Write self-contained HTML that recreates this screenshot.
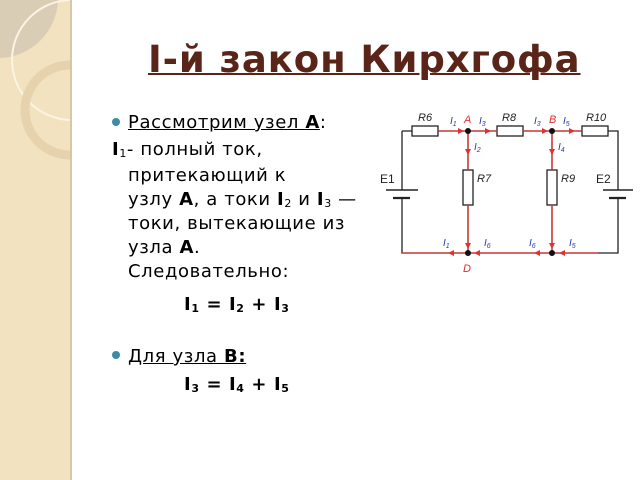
<!DOCTYPE html>
<html><head><meta charset="utf-8"><style>
body{margin:0;width:640px;height:480px;overflow:hidden;background:#fff;position:relative;font-family:"DejaVu Sans","Liberation Sans",sans-serif;}
.side{position:absolute;left:0;top:0;width:70px;height:480px;background:#f2e2c0;border-right:2px solid #d8c7a4;}
.t{position:absolute;left:148px;top:38px;font-size:37px;font-weight:bold;color:#5a2518;text-decoration:underline;text-decoration-thickness:2px;white-space:nowrap;letter-spacing:0.9px}
.l{position:absolute;font-size:18px;color:#000;white-space:nowrap;line-height:24px;letter-spacing:0.6px}
.dot{position:absolute;width:8px;height:8px;border-radius:50%;background:#3d8ca6}
sub{font-size:11px;vertical-align:-2px}
</style></head><body>
<div class="side">
<svg width="70" height="160" style="position:absolute;left:0;top:0">
<path d="M0 0 L58 0 A60 60 0 0 1 0 58 Z" fill="#d9cdb5"/>
<circle cx="72" cy="60" r="60" fill="none" stroke="#fbf3e3" stroke-width="2"/>
<circle cx="70" cy="110" r="45" fill="none" stroke="#e6d3ae" stroke-width="9"/>
</svg></div>
<div class="t">I-й закон Кирхгофа</div>
<div class="dot" style="left:112px;top:118px"></div>
<div class="l" style="left:128px;top:111px"><u>Рассмотрим узел <b>А</b></u>:</div>
<div class="l" style="left:112px;top:138px"><b>I</b><sub>1</sub>- полный ток,</div>
<div class="l" style="left:128px;top:164px">притекающий к</div>
<div class="l" style="left:128px;top:188px">узлу <b>А</b>, а токи <b>I</b><sub>2</sub> и <b>I</b><sub>3</sub> —</div>
<div class="l" style="left:128px;top:212px">токи, вытекающие из</div>
<div class="l" style="left:128px;top:236px">узла <b>А</b>.</div>
<div class="l" style="left:128px;top:260px">Следовательно:</div>
<div class="l" style="left:184px;top:293px;font-weight:bold">I<sub>1</sub> = I<sub>2</sub> + I<sub>3</sub></div>
<div class="dot" style="left:112px;top:351px"></div>
<div class="l" style="left:128px;top:345px"><u>Для узла <b>В:</b></u></div>
<div class="l" style="left:184px;top:373px;font-weight:bold">I<sub>3</sub> = I<sub>4</sub> + I<sub>5</sub></div>
<svg width="640" height="480" style="position:absolute;left:0;top:0" font-family="Liberation Sans,sans-serif">
<g stroke="#222" stroke-width="1.3" fill="none">
<path d="M402 131 H412 M438 131 H497 M523 131 H582 M608 131 H618 V190 M618 198 V253 H402 V198 M402 190 V131"/>
<path d="M468 131 V170 M468 205 V253 M552 131 V170 M552 205 V253"/>
<rect x="412" y="126" width="26" height="10" fill="#fff"/>
<rect x="497" y="126" width="26" height="10" fill="#fff"/>
<rect x="582" y="126" width="26" height="10" fill="#fff"/>
<rect x="463" y="170" width="10" height="35" fill="#fff"/>
<rect x="547" y="170" width="10" height="35" fill="#fff"/>
<path d="M386 190 H418 M603 190 H633" stroke-width="1.6"/>
<path d="M393 198 H410 M609 198 H626" stroke-width="2.2"/>
</g>
<g stroke="#e03030" stroke-width="1.3" fill="none">
<path d="M438 131 H497 M468 131 V170 M523 131 H582 M552 131 V170 M468 205 V253 M552 205 V253 M402 253 H598"/>
</g>
<g fill="#e03030">
<path d="M464 131 l-6 -3 v6z M491 131 l-6 -3 v6z M548 131 l-6 -3 v6z M575 131 l-6 -3 v6z"/>
<path d="M468 155 l-3 -6 h6z M552 155 l-3 -6 h6z M468 249 l-3 -6 h6z M552 249 l-3 -6 h6z"/>
<path d="M448 253 l6 -3 v6z M474 253 l6 -3 v6z M534 253 l6 -3 v6z M559 253 l6 -3 v6z"/>
</g>
<g fill="#111"><circle cx="468" cy="131" r="3"/><circle cx="552" cy="131" r="3"/><circle cx="468" cy="253" r="3"/><circle cx="552" cy="253" r="3"/></g>
<g font-size="11" font-style="italic" fill="#222">
<text x="418" y="121">R6</text><text x="502" y="121">R8</text><text x="586" y="121">R10</text>
<text x="477" y="182">R7</text><text x="561" y="182">R9</text>
</g>
<g font-size="12" fill="#222"><text x="380" y="183">E1</text><text x="596" y="183">E2</text></g>
<g font-size="11" font-style="italic" fill="#e03030"><text x="464" y="123">A</text><text x="549" y="123">B</text><text x="463" y="272">D</text></g>
<g font-size="10" font-style="italic" fill="#2a3aa8">
<text x="450" y="124">I<tspan font-size="7" dy="2">1</tspan></text>
<text x="479" y="124">I<tspan font-size="7" dy="2">3</tspan></text>
<text x="534" y="124">I<tspan font-size="7" dy="2">3</tspan></text>
<text x="563" y="124">I<tspan font-size="7" dy="2">5</tspan></text>
<text x="474" y="150">I<tspan font-size="7" dy="2">2</tspan></text>
<text x="558" y="150">I<tspan font-size="7" dy="2">4</tspan></text>
<text x="443" y="246">I<tspan font-size="7" dy="2">1</tspan></text>
<text x="484" y="246">I<tspan font-size="7" dy="2">6</tspan></text>
<text x="529" y="246">I<tspan font-size="7" dy="2">6</tspan></text>
<text x="569" y="246">I<tspan font-size="7" dy="2">5</tspan></text>
</g>
</svg>
</body></html>
